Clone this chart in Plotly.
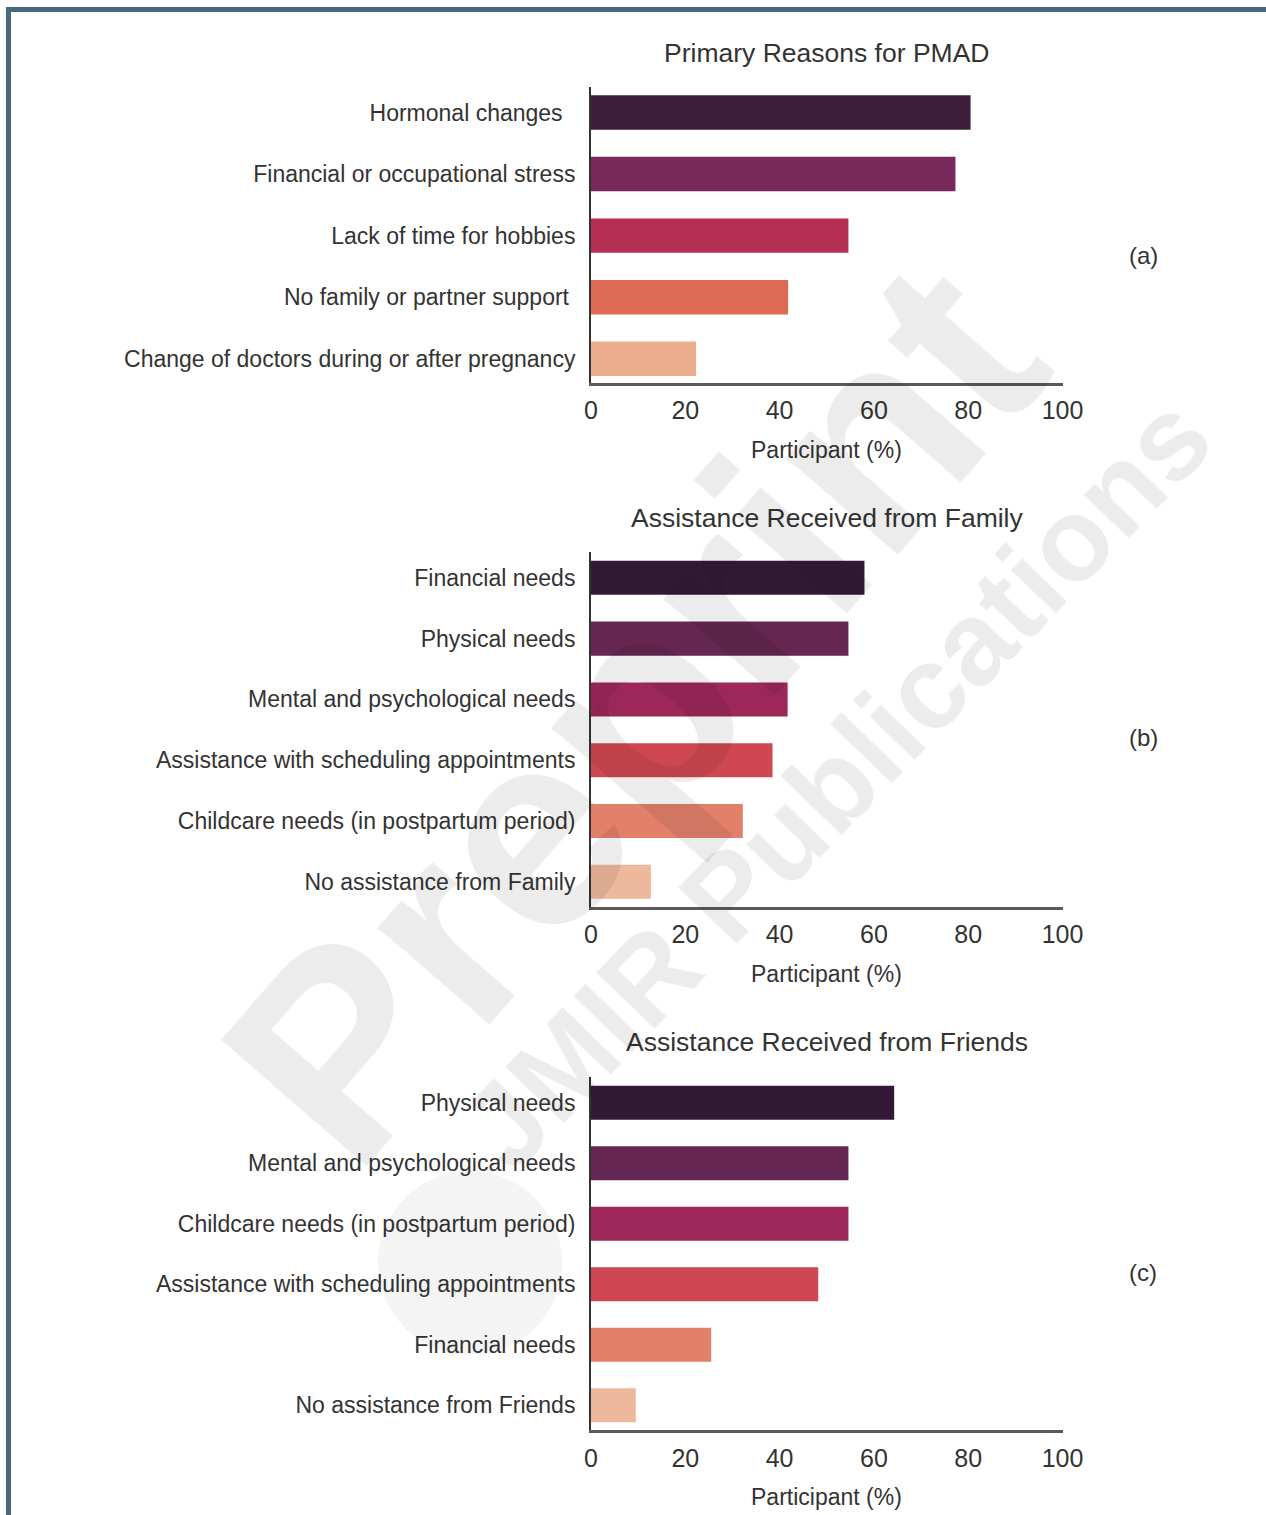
import plotly.graph_objects as go

# ---- data -------------------------------------------------------------
reasons_labels = [
    "Hormonal changes\u00a0\u00a0",
    "Financial or occupational stress",
    "Lack of time for hobbies",
    "No family or partner support\u00a0",
    "Change of doctors during or after pregnancy",
]
reasons_values = [80.5, 77.3, 54.6, 41.8, 22.3]

family_labels = [
    "Financial needs",
    "Physical needs",
    "Mental and psychological needs",
    "Assistance with scheduling appointments",
    "Childcare needs (in postpartum period)",
    "No assistance from Family",
]
family_values = [58.0, 54.6, 41.7, 38.5, 32.2, 12.7]

friends_labels = [
    "Physical needs",
    "Mental and psychological needs",
    "Childcare needs (in postpartum period)",
    "Assistance with scheduling appointments",
    "Financial needs",
    "No assistance from Friends",
]
friends_values = [64.3, 54.6, 54.6, 48.2, 25.5, 9.5]

panel_titles = [
    "Primary Reasons for PMAD",
    "Assistance Received from Family",
    "Assistance Received from Friends",
]
panel_tags = ["(a)", "(b)", "(c)"]
x_ticks = [0, 20, 40, 60, 80, 100]
x_title = "Participant (%)"

palette5 = ["#3d1f3c", "#78285a", "#b52e54", "#dc6a55", "#eaad8e"]
palette6 = ["#321a37", "#652752", "#9c2759", "#cf4753", "#e2806a", "#edb89c"]

# ---- canvas geometry ---------------------------------------------------
W, H = 1266, 1515
FONT = "Liberation Sans, Arial, Helvetica, sans-serif"
TXT = "#333333"


def px(x):
    return x / W


def py(y):
    return 1 - y / H


x_left, x_right = 591, 1062.5
# (top, bottom) in pixels of each panel's plot area
panel_px = [(86.7, 382.7), (551.7, 906.7), (1076.7, 1430.0)]
y_ranges = [[4.39, -0.42], [5.41, -0.43], [5.41, -0.43]]
title_y = [53, 518, 1042]
tag_y = [255, 737, 1272]

panels = [
    (reasons_labels, reasons_values, palette5),
    (family_labels, family_values, palette6),
    (friends_labels, friends_values, palette6),
]

fig = go.Figure()
annotations = []
layout_axes = {}

for i, (labels, values, colors) in enumerate(panels):
    k = "" if i == 0 else str(i + 1)
    pos = list(range(len(labels)))
    fig.add_trace(
        go.Bar(
            x=values,
            y=pos,
            orientation="h",
            marker=dict(color=colors, line=dict(width=0)),
            width=0.56,
            xaxis="x" + k,
            yaxis="y" + k,
            showlegend=False,
            hoverinfo="x+y",
        )
    )
    top, bottom = panel_px[i]
    layout_axes["xaxis" + k] = dict(
        domain=[px(x_left), px(x_right)],
        anchor="y" + k,
        range=[0, 100],
        tickvals=x_ticks,
        ticktext=[str(t) for t in x_ticks],
        ticks="",
        ticklabelstandoff=4,
        showgrid=False,
        zeroline=False,
        showline=True,
        linecolor="#5a5a5a",
        linewidth=2.5,
        tickfont=dict(family=FONT, size=25, color=TXT),
        automargin=False,
        fixedrange=True,
    )
    layout_axes["yaxis" + k] = dict(
        domain=[py(bottom), py(top)],
        anchor="x" + k,
        range=y_ranges[i],
        tickvals=pos,
        ticktext=labels,
        ticks="",
        ticklabelstandoff=9,
        showgrid=False,
        zeroline=False,
        showline=True,
        linecolor="#333333",
        linewidth=2,
        tickfont=dict(family=FONT, size=23, color=TXT),
        automargin=False,
        fixedrange=True,
    )
    annotations.append(dict(
        text=panel_titles[i], xref="paper", yref="paper",
        x=px((x_left + x_right) / 2), y=py(title_y[i]),
        xanchor="center", yanchor="middle", showarrow=False,
        font=dict(family=FONT, size=26.5, color=TXT),
    ))
    annotations.append(dict(
        text=x_title, xref="paper", yref="paper",
        x=px((x_left + x_right) / 2), y=py(bottom + 67),
        xanchor="center", yanchor="middle", showarrow=False,
        font=dict(family=FONT, size=23, color=TXT),
    ))
    annotations.append(dict(
        text=panel_tags[i], xref="paper", yref="paper",
        x=px(1143), y=py(tag_y[i]),
        xanchor="center", yanchor="middle", showarrow=False,
        font=dict(family=FONT, size=24, color=TXT),
    ))

# faint diagonal preprint watermark on top of the figure
WM = "rgba(0,0,0,0.075)"
annotations.append(dict(
    text="<b>Preprint</b>", xref="paper", yref="paper",
    x=px(634), y=py(712), xanchor="center", yanchor="middle",
    textangle=-49, showarrow=False,
    font=dict(family=FONT, size=280, color=WM),
))
annotations.append(dict(
    text="<b>JMIR Publications</b>", xref="paper", yref="paper",
    x=px(836), y=py(782), xanchor="center", yanchor="middle",
    textangle=-46, showarrow=False,
    font=dict(family=FONT, size=118, color=WM),
))

shapes = [
    # frame: left and top rules
    dict(type="rect", xref="paper", yref="paper",
         x0=px(6), x1=px(11), y0=0, y1=py(7),
         fillcolor="#47697f", line=dict(width=0), layer="above"),
    dict(type="rect", xref="paper", yref="paper",
         x0=px(6), x1=1, y0=py(12), y1=py(7),
         fillcolor="#47697f", line=dict(width=0), layer="above"),
    # watermark logo disc
    dict(type="circle", xref="paper", yref="paper",
         x0=px(378), x1=px(562), y0=py(1355), y1=py(1171),
         fillcolor="rgba(0,0,0,0.045)", line=dict(width=0), layer="above"),
]

fig.update_layout(
    width=W, height=H,
    margin=dict(l=0, r=0, t=0, b=0, autoexpand=False),
    paper_bgcolor="white",
    plot_bgcolor="white",
    bargap=0.4,
    annotations=annotations,
    shapes=shapes,
    **layout_axes,
)

fig.write_html("out.html")
